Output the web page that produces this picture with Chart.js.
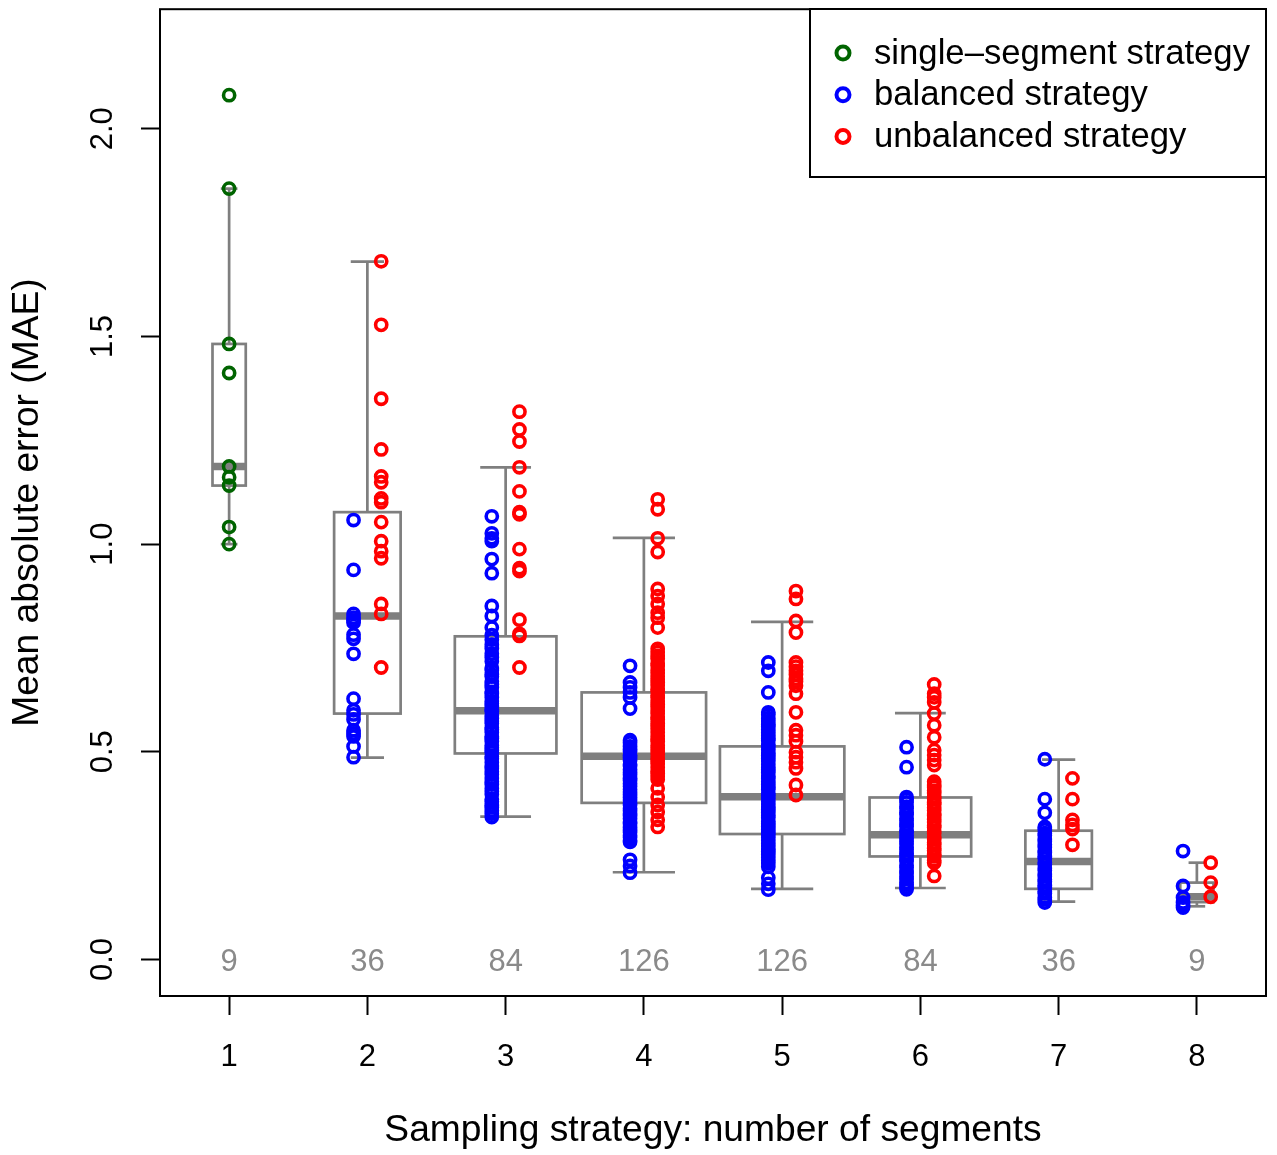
<!DOCTYPE html>
<html><head><meta charset="utf-8">
<script src="https://cdn.jsdelivr.net/npm/chart.js@4/dist/chart.umd.min.js"></script>
<style>html,body{margin:0;padding:0;background:#fff}#wrap{width:1277px;height:1155px}</style>
</head><body><div id="wrap"><canvas id="c" width="1277" height="1155"></canvas></div>
<script>
// ---------- data ----------
const groups = [1, 2, 3, 4, 5, 6, 7, 8];
const counts = [9, 36, 84, 126, 126, 84, 36, 9];
const yTicks = [0.0, 0.5, 1.0, 1.5, 2.0];
const seriesLabels = ['single\u2013segment strategy', 'balanced strategy', 'unbalanced strategy'];

// box statistics per group (whisker low, Q1, median, Q3, whisker high)
const whiskerLow  = [1.000, 0.486, 0.344, 0.210, 0.170, 0.172, 0.139, 0.128];
const quart1      = [1.141, 0.592, 0.496, 0.377, 0.302, 0.248, 0.170, 0.138];
const medians     = [1.187, 0.827, 0.599, 0.489, 0.392, 0.300, 0.236, 0.151];
const quart3      = [1.482, 1.077, 0.778, 0.643, 0.513, 0.390, 0.310, 0.185];
const whiskerHigh = [1.856, 1.680, 1.185, 1.015, 0.813, 0.593, 0.481, 0.233];

// single-segment strategy (group 1)
const singleSegment = [2.081, 1.856, 1.482, 1.412, 1.187, 1.161, 1.141, 1.041, 1.000];

// balanced strategy per group
const balanced2 = [1.058, 0.938, 0.832, 0.823, 0.816, 0.811, 0.782, 0.772, 0.736, 0.628, 0.600, 0.590, 0.578, 0.552, 0.544, 0.537, 0.513, 0.487];
const balanced3 = [1.067, 1.026, 1.014, 1.007, 0.964, 0.930, 0.851, 0.827, 0.799, 0.781, 0.770, 0.758, 0.749, 0.736, 0.727, 0.718, 0.702, 0.697, 0.686, 0.681, 0.670, 0.662, 0.655, 0.644, 0.640, 0.631, 0.622, 0.616, 0.609, 0.601, 0.597, 0.588, 0.580, 0.574, 0.569, 0.558, 0.553, 0.547, 0.536, 0.532, 0.525, 0.516, 0.510, 0.503, 0.499, 0.488, 0.483, 0.475, 0.466, 0.461, 0.452, 0.446, 0.437, 0.428, 0.421, 0.412, 0.405, 0.398, 0.386, 0.380, 0.371, 0.366, 0.358, 0.351, 0.343];
const balanced4 = [0.707, 0.667, 0.655, 0.643, 0.631, 0.604, 0.528, 0.522, 0.513, 0.507, 0.501, 0.492, 0.486, 0.479, 0.470, 0.466, 0.457, 0.451, 0.445, 0.436, 0.431, 0.423, 0.417, 0.410, 0.403, 0.398, 0.390, 0.384, 0.377, 0.372, 0.364, 0.358, 0.351, 0.346, 0.339, 0.331, 0.327, 0.318, 0.312, 0.306, 0.299, 0.294, 0.287, 0.283, 0.240, 0.225, 0.209];
const balanced5 = [0.715, 0.695, 0.643, 0.595, 0.589, 0.581, 0.574, 0.566, 0.561, 0.553, 0.546, 0.540, 0.532, 0.527, 0.518, 0.512, 0.505, 0.497, 0.491, 0.484, 0.478, 0.470, 0.463, 0.457, 0.450, 0.442, 0.436, 0.429, 0.421, 0.415, 0.409, 0.400, 0.394, 0.388, 0.381, 0.374, 0.367, 0.361, 0.354, 0.347, 0.341, 0.333, 0.327, 0.320, 0.313, 0.306, 0.300, 0.294, 0.287, 0.280, 0.273, 0.266, 0.260, 0.253, 0.246, 0.239, 0.232, 0.223, 0.197, 0.182, 0.168];
const balanced6 = [0.511, 0.463, 0.391, 0.386, 0.378, 0.368, 0.364, 0.354, 0.349, 0.340, 0.334, 0.325, 0.321, 0.311, 0.306, 0.298, 0.292, 0.284, 0.278, 0.270, 0.264, 0.255, 0.250, 0.241, 0.237, 0.227, 0.222, 0.213, 0.208, 0.199, 0.194, 0.185, 0.180, 0.173, 0.169];
const balanced7 = [0.482, 0.386, 0.353, 0.319, 0.313, 0.304, 0.299, 0.290, 0.285, 0.276, 0.271, 0.261, 0.257, 0.248, 0.243, 0.234, 0.229, 0.220, 0.215, 0.206, 0.201, 0.192, 0.187, 0.178, 0.173, 0.164, 0.159, 0.150, 0.145, 0.137];
const balanced8 = [0.261, 0.177, 0.149, 0.137, 0.131, 0.125];

// unbalanced strategy per group
const unbalanced2 = [1.681, 1.528, 1.350, 1.228, 1.163, 1.149, 1.110, 1.101, 1.053, 1.007, 0.983, 0.966, 0.856, 0.832, 0.703];
const unbalanced3 = [1.319, 1.276, 1.247, 1.185, 1.127, 1.077, 1.072, 0.988, 0.942, 0.935, 0.818, 0.784, 0.779, 0.703];
const unbalanced4 = [1.108, 1.084, 1.014, 0.981, 0.892, 0.875, 0.856, 0.835, 0.823, 0.799, 0.748, 0.740, 0.731, 0.724, 0.713, 0.707, 0.697, 0.690, 0.682, 0.675, 0.667, 0.660, 0.651, 0.645, 0.636, 0.630, 0.622, 0.614, 0.608, 0.599, 0.593, 0.584, 0.578, 0.568, 0.562, 0.555, 0.547, 0.538, 0.531, 0.525, 0.516, 0.509, 0.501, 0.494, 0.484, 0.478, 0.471, 0.463, 0.454, 0.448, 0.441, 0.433, 0.412, 0.391, 0.372, 0.355, 0.336, 0.319];
const unbalanced5 = [0.887, 0.868, 0.815, 0.787, 0.715, 0.705, 0.695, 0.686, 0.676, 0.669, 0.659, 0.640, 0.595, 0.552, 0.540, 0.525, 0.499, 0.487, 0.475, 0.460, 0.420, 0.396];
const unbalanced6 = [0.662, 0.640, 0.631, 0.619, 0.592, 0.564, 0.535, 0.504, 0.492, 0.480, 0.468, 0.428, 0.420, 0.415, 0.406, 0.401, 0.392, 0.387, 0.378, 0.373, 0.365, 0.359, 0.350, 0.346, 0.337, 0.331, 0.323, 0.318, 0.309, 0.304, 0.295, 0.290, 0.281, 0.276, 0.267, 0.262, 0.253, 0.248, 0.239, 0.233, 0.201];
const unbalanced7 = [0.436, 0.386, 0.336, 0.324, 0.314, 0.276];
const unbalanced8 = [0.233, 0.185, 0.151];

const balancedByGroup = [[], balanced2, balanced3, balanced4, balanced5, balanced6, balanced7, balanced8];
const unbalancedByGroup = [[], unbalanced2, unbalanced3, unbalanced4, unbalanced5, unbalanced6, unbalanced7, unbalanced8];

// ---------- styles ----------
const FONT = '"Liberation Sans", Arial, Helvetica, sans-serif';
const GREEN = '#006400', BLUE = '#0000ff', RED = '#ff0000', BOXGRAY = '#7f7f7f';
Chart.defaults.font.family = FONT;

const pointStyle = {
  showLine: false,
  pointStyle: 'circle',
  radius: 5.6,
  pointRadius: 5.6,
  pointHoverRadius: 5.6,
  borderWidth: 3.6,
  pointBorderWidth: 3.6,
  pointHoverBorderWidth: 3.6,
  pointBackgroundColor: 'rgba(0,0,0,0)',
  backgroundColor: 'rgba(0,0,0,0)'
};

const datasets = [
  Object.assign({ label: seriesLabels[0], borderColor: GREEN, pointBorderColor: GREEN,
    data: singleSegment.map(v => ({ x: groups[0], y: v })) }, pointStyle),
  Object.assign({ label: seriesLabels[1], borderColor: BLUE, pointBorderColor: BLUE,
    data: groups.flatMap((g, i) => balancedByGroup[i].map(v => ({ x: g - 0.1, y: v }))) }, pointStyle),
  Object.assign({ label: seriesLabels[2], borderColor: RED, pointBorderColor: RED,
    data: groups.flatMap((g, i) => unbalancedByGroup[i].map(v => ({ x: g + 0.1, y: v }))) }, pointStyle)
];

// ---------- plugins ----------
const boxPlugin = {
  id: 'boxes',
  beforeDatasetsDraw(chart) {
    const { ctx, scales: { x, y } } = chart;
    const maxSqrt = Math.sqrt(Math.max(...counts));
    ctx.save();
    ctx.strokeStyle = BOXGRAY;
    ctx.lineCap = 'butt';
    const line = (x1, y1, x2, y2) => { ctx.beginPath(); ctx.moveTo(x1, y1); ctx.lineTo(x2, y2); ctx.stroke(); };
    groups.forEach((g, i) => {
      const half = 0.45 * Math.sqrt(counts[i]) / maxSqrt;
      const xl = x.getPixelForValue(g - half), xr = x.getPixelForValue(g + half), xc = x.getPixelForValue(g);
      const cl = x.getPixelForValue(g - half / 2), cr = x.getPixelForValue(g + half / 2);
      const ylo = y.getPixelForValue(whiskerLow[i]), yq1 = y.getPixelForValue(quart1[i]);
      const ymd = y.getPixelForValue(medians[i]), yq3 = y.getPixelForValue(quart3[i]);
      const yhi = y.getPixelForValue(whiskerHigh[i]);
      ctx.lineWidth = 2.7;
      line(xc, yq3, xc, yhi);
      line(xc, yq1, xc, ylo);
      line(cl, yhi, cr, yhi);
      line(cl, ylo, cr, ylo);
      ctx.strokeRect(xl, yq3, xr - xl, yq1 - yq3);
      ctx.lineWidth = 7.5;
      line(xl, ymd, xr, ymd);
    });
    // counts along y = 0
    ctx.fillStyle = '#8a8a8a';
    ctx.font = '31px ' + FONT;
    ctx.textAlign = 'center';
    ctx.textBaseline = 'middle';
    groups.forEach((g, i) => ctx.fillText(String(counts[i]), x.getPixelForValue(g), y.getPixelForValue(0) + 3));
    ctx.restore();
  },
  afterDraw(chart) {
    const { ctx, chartArea: a } = chart;
    ctx.save();
    // plot frame
    ctx.strokeStyle = '#000';
    ctx.lineWidth = 2;
    ctx.strokeRect(a.left, a.top, a.right - a.left, a.bottom - a.top);
    // legend
    const lx = 810, ly = 9, lw = a.right - 810, lh = 168;
    ctx.fillStyle = '#fff';
    ctx.fillRect(lx, ly, lw, lh);
    ctx.strokeRect(lx, ly, lw, lh);
    ctx.font = '34.7px ' + FONT;
    ctx.textAlign = 'left';
    ctx.textBaseline = 'middle';
    chart.data.datasets.forEach((ds, k) => {
      const ry = 53 + k * 41.7;
      ctx.beginPath();
      ctx.lineWidth = 4;
      ctx.strokeStyle = ds.borderColor;
      ctx.arc(843, ry, 6.5, 0, Math.PI * 2);
      ctx.stroke();
      ctx.fillStyle = '#000';
      ctx.fillText(ds.label, 874, ry + 1);
    });
    ctx.restore();
  }
};

const tickGrid = { display: true, drawOnChartArea: false, drawTicks: true, tickLength: 19, tickWidth: 2, tickColor: '#000', color: '#000' };

new Chart(document.getElementById('c'), {
  type: 'scatter',
  data: { datasets },
  options: {
    responsive: false,
    animation: false,
    events: [],
    layout: { padding: { left: 0, top: 5, right: 11, bottom: 0 } },
    plugins: { legend: { display: false }, tooltip: { enabled: false } },
    scales: {
      x: {
        type: 'linear', min: 0.5, max: 8.5,
        afterBuildTicks: s => { s.ticks = groups.map(v => ({ value: v })); },
        afterFit: s => { s.height = 159; s.paddingLeft = 0; s.paddingRight = 0; },
        ticks: { font: { size: 31 }, color: '#000', padding: 24, callback: v => String(v) },
        grid: tickGrid,
        border: { display: false },
        title: { display: true, text: 'Sampling strategy: number of segments', color: '#000', font: { size: 37.2 }, padding: { top: 0, bottom: 2 } }
      },
      y: {
        type: 'linear', min: -0.088, max: 2.288,
        afterBuildTicks: s => { s.ticks = yTicks.map(v => ({ value: v })); },
        afterFit: s => { s.width = 160; s.paddingTop = 0; s.paddingBottom = 0; },
        ticks: { font: { size: 31 }, color: '#000', padding: 16, minRotation: 90, maxRotation: 90, crossAlign: 'center', callback: v => Number(v).toFixed(1) },
        grid: tickGrid,
        border: { display: false },
        title: { display: true, text: 'Mean absolute error (MAE)', color: '#000', font: { size: 37.2 }, padding: { top: 5, bottom: 0 } }
      }
    }
  },
  plugins: [boxPlugin]
});
</script>
</body></html>
